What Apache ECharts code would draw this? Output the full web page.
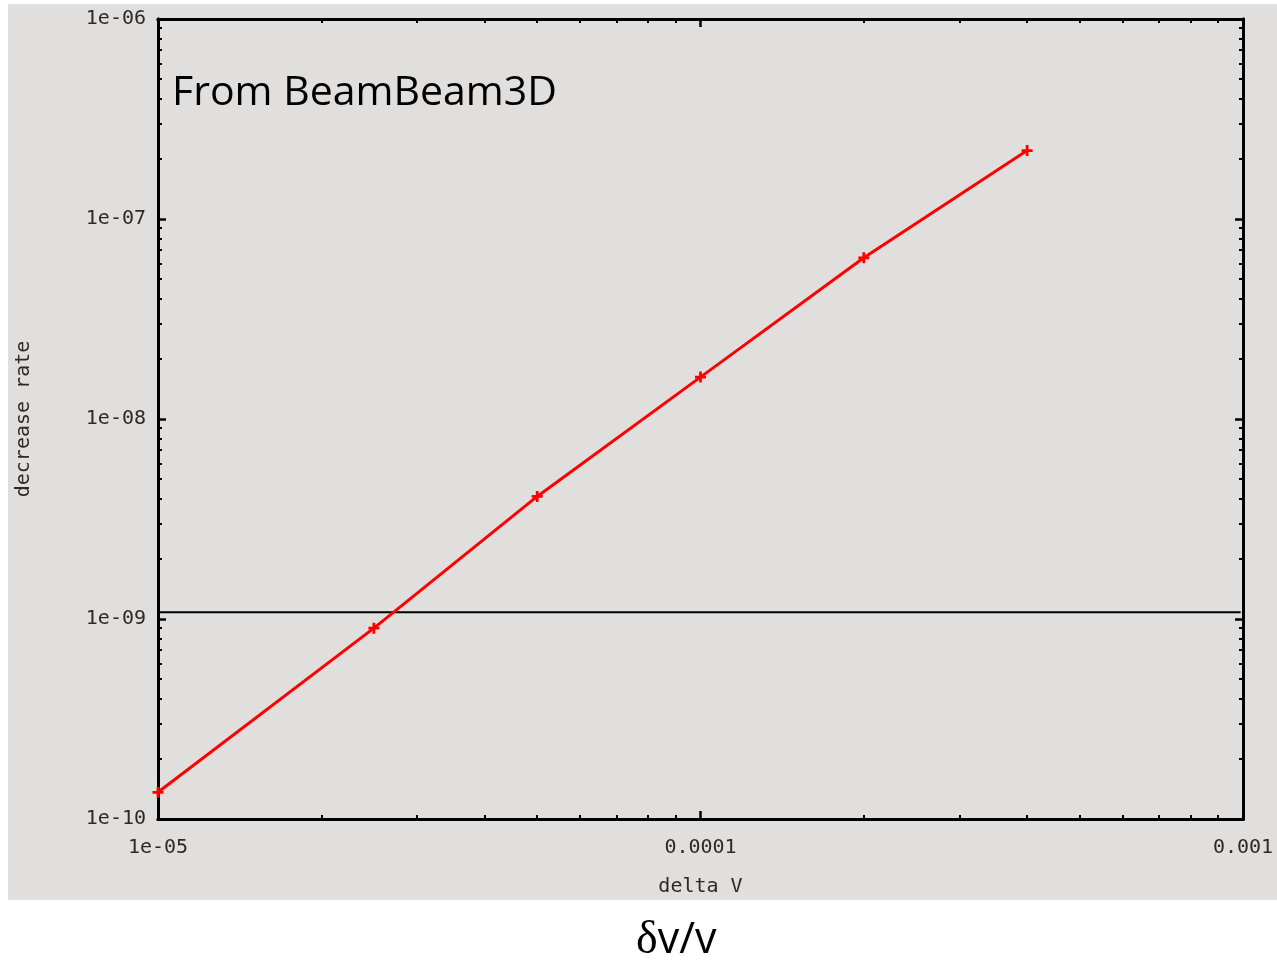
<!DOCTYPE html>
<html>
<head>
<meta charset="utf-8">
<script src="https://cdn.jsdelivr.net/npm/echarts@6/dist/echarts.min.js"></script>
<style>
  html, body { margin: 0; padding: 0; background: #ffffff; }
  #chart { width: 1277px; height: 962px; }
</style>
</head>
<body>
<div id="chart"></div>
<script>
// Measured points: beam–beam decrease rate versus velocity spread
const deltaV = [1e-5, 2.5e-5, 5e-5, 1e-4, 2e-4, 4e-4];
const decreaseRate = [1.36e-10, 9.0e-10, 4.1e-9, 1.62e-8, 6.4e-8, 2.2e-7];

// Horizontal reference level and its x extent
const thresholdRate = 1.08e-9;
const thresholdSpan = [1e-5, 9.9e-4];

// Axis decades and their printed labels
const xMajorTicks = [1e-5, 1e-4, 1e-3];
const xTickLabels = ['1e-05', '0.0001', '0.001'];
const yMajorTicks = [1e-10, 1e-9, 1e-8, 1e-7, 1e-6];
const yTickLabels = ['1e-10', '1e-09', '1e-08', '1e-07', '1e-06'];

// Minor ticks at 2..9 within each decade
function minorTicks(decades) {
  const out = [];
  for (let i = 0; i < decades.length - 1; i++) {
    for (let m = 2; m <= 9; m++) out.push(+(decades[i] * m).toPrecision(3));
  }
  return out;
}
const xMinor = minorTicks(xMajorTicks);
const yMinor = minorTicks(yMajorTicks);

const FONT = 'DejaVu Sans Mono';
const LABEL_COLOR = '#2a2a2a';
const BG = '#e0dfdd';

function labelFor(ticks, labels) {
  return function (v) {
    for (let i = 0; i < ticks.length; i++) {
      if (Math.abs(Math.log10(v) - Math.log10(ticks[i])) < 1e-6) return labels[i];
    }
    return '';
  };
}

function xAxisDef(position, values, len, width, withLabels) {
  return {
    type: 'log', logBase: 10, min: xMajorTicks[0], max: xMajorTicks[xMajorTicks.length - 1],
    position: position,
    splitLine: { show: false },
    axisLine: { show: true, lineStyle: { color: '#000', width: 3 } },
    axisTick: { show: true, inside: true, length: len, customValues: values,
      lineStyle: { color: '#000', width: width } },
    axisLabel: withLabels ? {
      show: true, customValues: xMajorTicks, margin: 19,
      fontFamily: FONT, fontSize: 20, color: LABEL_COLOR,
      formatter: labelFor(xMajorTicks, xTickLabels)
    } : { show: false },
    name: withLabels ? 'delta V' : '',
    nameLocation: 'middle', nameGap: 58,
    nameTextStyle: { fontFamily: FONT, fontSize: 20, color: LABEL_COLOR }
  };
}

function yAxisDef(position, values, len, width, withLabels) {
  return {
    type: 'log', logBase: 10, min: yMajorTicks[0], max: yMajorTicks[yMajorTicks.length - 1],
    position: position,
    splitLine: { show: false },
    axisLine: { show: true, lineStyle: { color: '#000', width: 3 } },
    axisTick: { show: true, inside: true, length: len, customValues: values,
      lineStyle: { color: '#000', width: width } },
    axisLabel: withLabels ? {
      show: true, customValues: yMajorTicks, margin: 12,
      fontFamily: FONT, fontSize: 20, color: LABEL_COLOR,
      formatter: labelFor(yMajorTicks, yTickLabels)
    } : { show: false },
    name: withLabels ? 'decrease rate' : '',
    nameLocation: 'middle', nameGap: 124,
    nameTextStyle: { fontFamily: FONT, fontSize: 20, color: LABEL_COLOR }
  };
}

const chart = echarts.init(document.getElementById('chart'), null, { renderer: 'canvas' });

chart.setOption({
  animation: false,
  backgroundColor: '#ffffff',
  graphic: [
    { type: 'rect', z: -10, silent: true,
      shape: { x: 8, y: 4, width: 1269, height: 896 },
      style: { fill: BG } },
    { type: 'text', left: 172, top: 73, silent: true,
      style: { text: 'From BeamBeam3D', font: '41px "Open Sans"', fill: '#000' } },
    { type: 'text', left: 636, top: 918, silent: true,
      style: {
        text: '{d|δ}{v|v/v}',
        rich: {
          d: { fontFamily: 'Liberation Serif', fontSize: 46, fill: '#000' },
          v: { fontFamily: 'Open Sans', fontSize: 43, fill: '#000' }
        }
      } }
  ],
  grid: { left: 158, right: 34, top: 19, bottom: 143, containLabel: false },
  xAxis: [
    xAxisDef('bottom', xMajorTicks, 8, 2.5, true),
    xAxisDef('bottom', xMinor, 4, 2, false),
    xAxisDef('top', xMajorTicks, 8, 2.5, false),
    xAxisDef('top', xMinor, 4, 2, false)
  ],
  yAxis: [
    yAxisDef('left', yMajorTicks, 8, 2.5, true),
    yAxisDef('left', yMinor, 4, 2, false),
    yAxisDef('right', yMajorTicks, 8, 2.5, false),
    yAxisDef('right', yMinor, 4, 2, false)
  ],
  series: [
    {
      type: 'line',
      xAxisIndex: 0, yAxisIndex: 0,
      data: thresholdSpan.map(x => [x, thresholdRate]),
      symbol: 'none', silent: true, z: 1,
      lineStyle: { color: '#000', width: 2 }
    },
    {
      type: 'line',
      xAxisIndex: 0, yAxisIndex: 0,
      data: deltaV.map((x, i) => [x, decreaseRate[i]]),
      clip: false, z: 3,
      lineStyle: { color: '#ff0000', width: 3 },
      itemStyle: { color: '#ff0000' },
      symbol: 'path://M3,0 L5,0 L5,3 L8,3 L8,5 L5,5 L5,8 L3,8 L3,5 L0,5 L0,3 L3,3 Z',
      symbolSize: 11
    }
  ]
});
</script>
</body>
</html>
